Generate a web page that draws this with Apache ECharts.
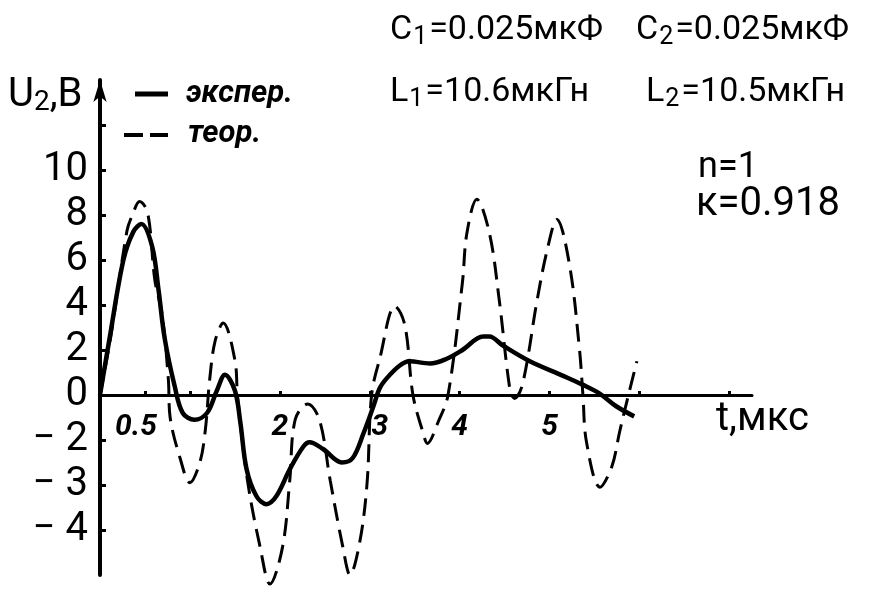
<!DOCTYPE html>
<html>
<head>
<meta charset="utf-8">
<script src="https://cdn.jsdelivr.net/npm/echarts@6/dist/echarts.min.js"></script>
<style>html,body{margin:0;padding:0;background:#fff}#c{width:880px;height:589px}</style>
</head>
<body>
<div id="c"></div>
<script>
// ---- data (t in мкс, U2 in axis units) ----
const expT = [0,0.11,0.26,0.37,0.46,0.58,0.65,0.72,0.83,0.92,1.05,1.19,1.30,1.39,1.50,1.56,1.63,1.74,1.85,1.96,2.11,2.26,2.33,2.48,2.69,2.81,2.93,3.04,3.11,3.19,3.33,3.44,3.67,3.85,4.03,4.26,4.33,4.48,4.78,5.15,5.37,5.56,5.74,5.94];
const expU = [0,2.6,6.0,7.25,7.6,6.6,4.7,2.5,0.4,-0.8,-1.1,-0.8,0.2,0.9,0.2,-1.2,-3.3,-4.5,-4.85,-4.5,-3.3,-2.3,-2.1,-2.4,-3.0,-2.8,-1.7,-0.5,0.3,0.75,1.3,1.5,1.4,1.6,2.0,2.6,2.6,2.2,1.5,0.85,0.45,0.05,-0.5,-0.95];
const theoT = [0,0.12,0.30,0.36,0.44,0.53,0.61,0.69,0.76,0.78,0.89,1.00,1.11,1.17,1.22,1.28,1.37,1.50,1.53,1.64,1.78,1.89,2.03,2.11,2.17,2.31,2.44,2.56,2.70,2.78,2.89,2.97,3.02,3.11,3.28,3.39,3.48,3.59,3.64,3.76,3.87,4.03,4.08,4.19,4.33,4.44,4.56,4.61,4.70,4.86,4.97,5.08,5.22,5.33,5.37,5.41,5.56,5.69,5.78,5.87,5.97];
const theoU = [0,2.6,7.3,8.0,8.6,8.1,5.1,3.6,0.7,-1.0,-2.8,-3.9,-3.0,-1.6,0.7,2.4,3.2,1.55,-0.1,-3.8,-6.75,-8.4,-6.75,-3.8,-1.1,-0.4,-1.1,-3.8,-6.75,-8.0,-6.5,-3.9,0,1.6,3.95,3.1,0,-1.65,-2.15,-1.2,0,5.0,7.2,8.7,7.2,4.2,0.2,-0.15,0.5,4.2,6.4,7.8,5.8,2.1,0,-2.1,-4.1,-3.2,-1.6,-0.1,1.5];
const yTickValues = [12,10,8,6,4,2,0,-2,-4,-6];
const yLabelValues = [10,8,6,4,2,0,-2,-4,-6];
const yLabelTexts = ['10','8','6','4','2','0','− 2','− 3','− 4'];
const xTickValues = [0.5,1,2,3,4,5,6,7];
const xLabelValues = [0.5,2,3,4,5];
const xLabelTexts = ['0.5','2','3','4','5'];
const legendNames = ['экспер.','теор.'];

const pair = (a,b) => a.map((v,i)=>[v,b[i]]);
const F = 'Roboto, "DejaVu Sans", sans-serif';
const Y_MIN = -8, Y_MAX = 14, GRID_TOP = 80, GRID_H = 495;
const zeroOffset = -GRID_H * (0 - Y_MIN) / (Y_MAX - Y_MIN);

const richParam = {
  a:{fontFamily:F, fontSize:34, color:'#000'},
  s:{fontFamily:F, fontSize:25, color:'#000', padding:[16,2,0,1]}
};
function paramText(x, y, name, sub, rest){
  return {type:'text', x:x, y:y, style:{text:'{a|'+name+'}{s|'+sub+'}{a|'+rest+'}', rich:richParam, verticalAlign:'middle'}};
}
const xLabStyle = {fontFamily:F, fontSize:30, fontStyle:'italic', fontWeight:'bold', color:'#000'};

const chart = echarts.init(document.getElementById('c'), null, {renderer:'canvas'});
chart.setOption({
  animation:false,
  backgroundColor:'#fff',
  grid:{left:100, top:GRID_TOP, width:652, height:GRID_H, containLabel:false, outerBoundsMode:'none'},
  xAxis:{
    type:'value', min:0, max:7.25, position:'bottom', offset:zeroOffset,
    axisLine:{show:true, onZero:false, lineStyle:{color:'#000', width:3}},
    axisTick:{show:true, customValues:xTickValues, inside:true, length:4, lineStyle:{color:'#000', width:3}},
    axisLabel:{customValues:xLabelValues, margin:17, fontFamily:F, fontSize:30, fontStyle:'italic', fontWeight:'bold', color:'#000',
      rich:{
        l:Object.assign({padding:[0,18,0,0]}, xLabStyle),
        r:Object.assign({padding:[0,0,0,20]}, xLabStyle),
        c:xLabStyle
      },
      formatter:v=>{
        const i=xLabelValues.indexOf(v);
        if(i<0) return '';
        const k = v===0.5 ? 'l' : (v===3 ? 'r' : 'c');
        return '{'+k+'|'+xLabelTexts[i]+'}';
      }},
    splitLine:{show:false}
  },
  yAxis:{
    type:'value', min:Y_MIN, max:Y_MAX,
    axisLine:{show:true, onZero:false, symbol:['none','arrow'], symbolSize:[10,22], lineStyle:{color:'#000', width:4}},
    axisTick:{show:true, customValues:yTickValues, inside:true, length:6, lineStyle:{color:'#000', width:3}},
    axisLabel:{customValues:yLabelValues, margin:12, fontFamily:F, fontSize:40, color:'#000',
      formatter:v=>{const i=yLabelValues.indexOf(v);return i<0?'':yLabelTexts[i];}},
    splitLine:{show:false}
  },
  series:[
    {name:legendNames[1], type:'line', data:pair(theoT,theoU), smooth:0.35, showSymbol:false, clip:false,
     lineStyle:{color:'#000', width:3, type:[18,9]}},
    {name:legendNames[0], type:'line', data:pair(expT,expU), smooth:0.35, showSymbol:false, clip:false,
     lineStyle:{color:'#000', width:4.5}}
  ],
  graphic:[
    {type:'text', x:8, y:96, style:{text:'{a|U}{s|2}{a|,B}', rich:{a:{fontFamily:F, fontSize:40, color:'#000'}, s:{fontFamily:F, fontSize:28, color:'#000', padding:[14,0,0,0]}}, verticalAlign:'middle'}},
    {type:'line', shape:{x1:135,y1:94,x2:168,y2:94}, style:{stroke:'#000', lineWidth:5}},
    {type:'text', x:186, y:94, style:{text:legendNames[0], font:'italic bold 31px '+F, fill:'#000', verticalAlign:'middle'}},
    {type:'line', shape:{x1:124,y1:135,x2:168,y2:135}, style:{stroke:'#000', lineWidth:4, lineDash:[19,7]}},
    {type:'text', x:188, y:134, style:{text:legendNames[1], font:'italic bold 31px '+F, fill:'#000', verticalAlign:'middle'}},
    paramText(390, 30, 'C', '1', '=0.025мкФ'),
    paramText(636, 30, 'C', '2', '=0.025мкФ'),
    paramText(390, 92, 'L', '1', '=10.6мкГн'),
    paramText(646, 92, 'L', '2', '=10.5мкГн'),
    {type:'text', x:698, y:168, style:{text:'n=1', font:'36px '+F, fill:'#000', verticalAlign:'middle'}},
    {type:'text', x:696, y:205, style:{text:'к=0.918', font:'40px '+F, fill:'#000', verticalAlign:'middle'}},
    {type:'text', x:716, y:420, style:{text:'t,мкс', font:'40px '+F, fill:'#000', verticalAlign:'middle'}}
  ]
});
</script>
</body>
</html>
